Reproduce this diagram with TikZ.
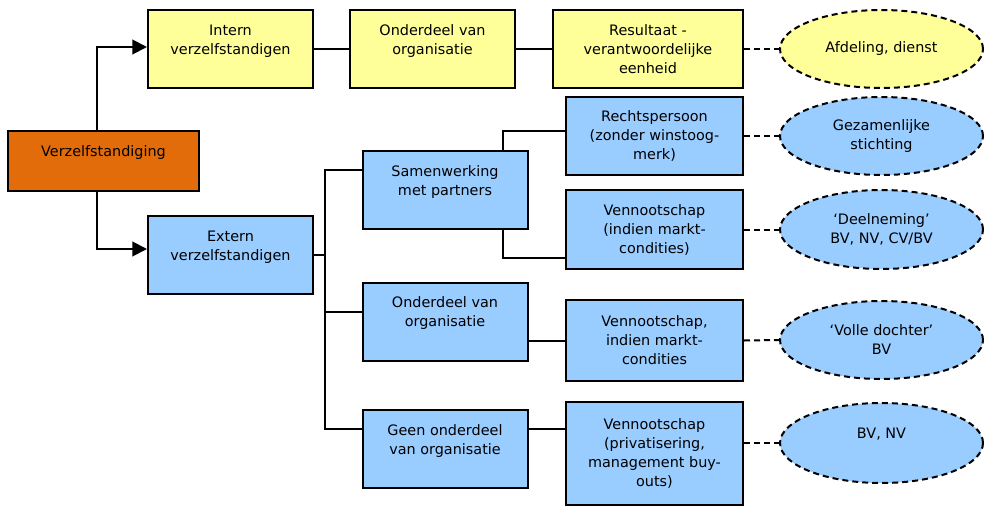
\documentclass[tikz,border=0pt]{standalone}
\usepackage{fontspec}
\setmainfont{DejaVu Sans}
\usetikzlibrary{arrows.meta,shapes.geometric}
\definecolor{yel}{HTML}{FFFF99}
\definecolor{blu}{HTML}{99CCFF}
\definecolor{org}{HTML}{E36C0A}
\tikzset{
  box/.style={draw=black, line width=1.5pt, rectangle, align=center, inner sep=0pt,
    minimum width=123.75pt, minimum height=58.5pt, font=\fontsize{10.8}{14.25}\selectfont},
  yelbox/.style={box, fill=yel},
  bluebox/.style={box, fill=blu},
  orgbox/.style={box, fill=org},
  blob/.style={draw=black, line width=1.5pt, ellipse, align=center, inner sep=0pt,
    dash pattern=on 4.5pt off 3pt, minimum width=152.25pt, minimum height=58.5pt,
    font=\fontsize{10.8}{14.25}\selectfont},
  yelblob/.style={blob, fill=yel},
  blueblob/.style={blob, fill=blu},
  conn/.style={line width=1.5pt},
  dconn/.style={line width=1.5pt, dash pattern=on 4.5pt off 3pt},
  arr/.style={conn, -{Triangle[length=11pt,width=11pt]}}
}

\begin{document}
\begin{tikzpicture}[x=0.75pt, y=-0.75pt]
			%%%%% START %%%%%
			\useasboundingbox (0,0) rectangle (986,508);
			
			\node[orgbox, minimum width=143.25pt, minimum height=45pt] (verz) at (103.5,161) {Verzelfstandiging\\\mbox{}};
			
			\node[yelbox] (intern) at (230.5,49) {Intern\\verzelfstandigen\\\mbox{}};
			\node[yelbox] (ondint) at (432.5,49) {Onderdeel van\\organisatie\\\mbox{}};
			\node[yelbox, minimum width=142.5pt] (result) at (648,49) {Resultaat -\\verantwoordelijke\\eenheid};
			\node[yelblob] (afd) at (881.5,49) {Afdeling, dienst};
			
			\node[bluebox] (extern) at (230.5,255) {Extern\\verzelfstandigen\\\mbox{}};
			\node[bluebox] (samen) at (445,190) {Samenwerking\\met partners\\\mbox{}};
			\node[bluebox] (ondext) at (445,321.5) {Onderdeel van\\organisatie\\\mbox{}};
			\node[bluebox] (geen) at (445,449) {Geen onderdeel\\van organisatie\\\mbox{}};
			
			\node[bluebox, minimum width=132.75pt] (rechts) at (654.5,136) {Rechtspersoon\\(zonder winstoog-\\merk)};
			\node[bluebox, minimum width=132.75pt, minimum height=59.25pt] (venn1) at (654.5,229.5) {Vennootschap\\(indien markt-\\condities)};
			\node[bluebox, minimum width=132.75pt, minimum height=60.75pt] (venn2) at (654.5,340.5) {Vennootschap,\\indien markt-\\condities};
			\node[bluebox, minimum width=132.75pt, minimum height=77.25pt] (venn3) at (654.5,453.5) {Vennootschap\\(privatisering,\\management buy-\\outs)};
			
			\node[blueblob] (gezam) at (881.5,136) {Gezamenlijke\\stichting};
			\node[blueblob, minimum height=59.25pt] (deeln) at (881.5,229.5) {‘Deelneming’\\BV, NV, CV/BV};
			\node[blueblob] (volle) at (881.5,340) {‘Volle dochter’\\BV};
			\node[blueblob, minimum height=60pt] (bvnv) at (881.5,443) {BV, NV\\\mbox{}};
			
			\coordinate (trunk) at (325,255);
			\coordinate (brk) at (503,190);
			
			\draw[arr] ([xshift=-5pt]verz.north) |- ([yshift=1.5pt]intern.west);
			\draw[arr] ([xshift=-5pt]verz.south) |- ([yshift=4.5pt]extern.west);
			
			\draw[conn] (intern.east) -- (ondint.west);
			\draw[conn] (ondint.east) -- (result.west);
			\draw[dconn] (result.east) -- (afd.west);
			
			\draw[conn] (extern.east) -- (trunk);
			\draw[conn] ([yshift=15pt]samen.west) -| (trunk) |- ([yshift=15pt]geen.west);
			\draw[conn] ([yshift=7pt]ondext.west) -- ([yshift=7pt]ondext.west -| trunk);
			
			\draw[conn] ([yshift=3.75pt]rechts.west) -| (brk |- samen.north);
			\draw[conn] ([yshift=-21.4pt]venn1.west) -| (brk |- samen.south);
			\draw[conn] (venn2.west) -- (venn2.west -| ondext.east);
			\draw[conn] ([yshift=15pt]geen.east) -- ([yshift=15pt]geen.east -| venn3.west);
			
			\draw[dconn] (rechts.east) -- (gezam.west);
			\draw[dconn] (venn1.east) -- (deeln.west);
			\draw[dconn] (venn2.east) -- (volle.west);
			\draw[dconn] (venn3.east |- bvnv.west) -- (bvnv.west);
			%%%%% END %%%%%
\end{tikzpicture}
\end{document}
